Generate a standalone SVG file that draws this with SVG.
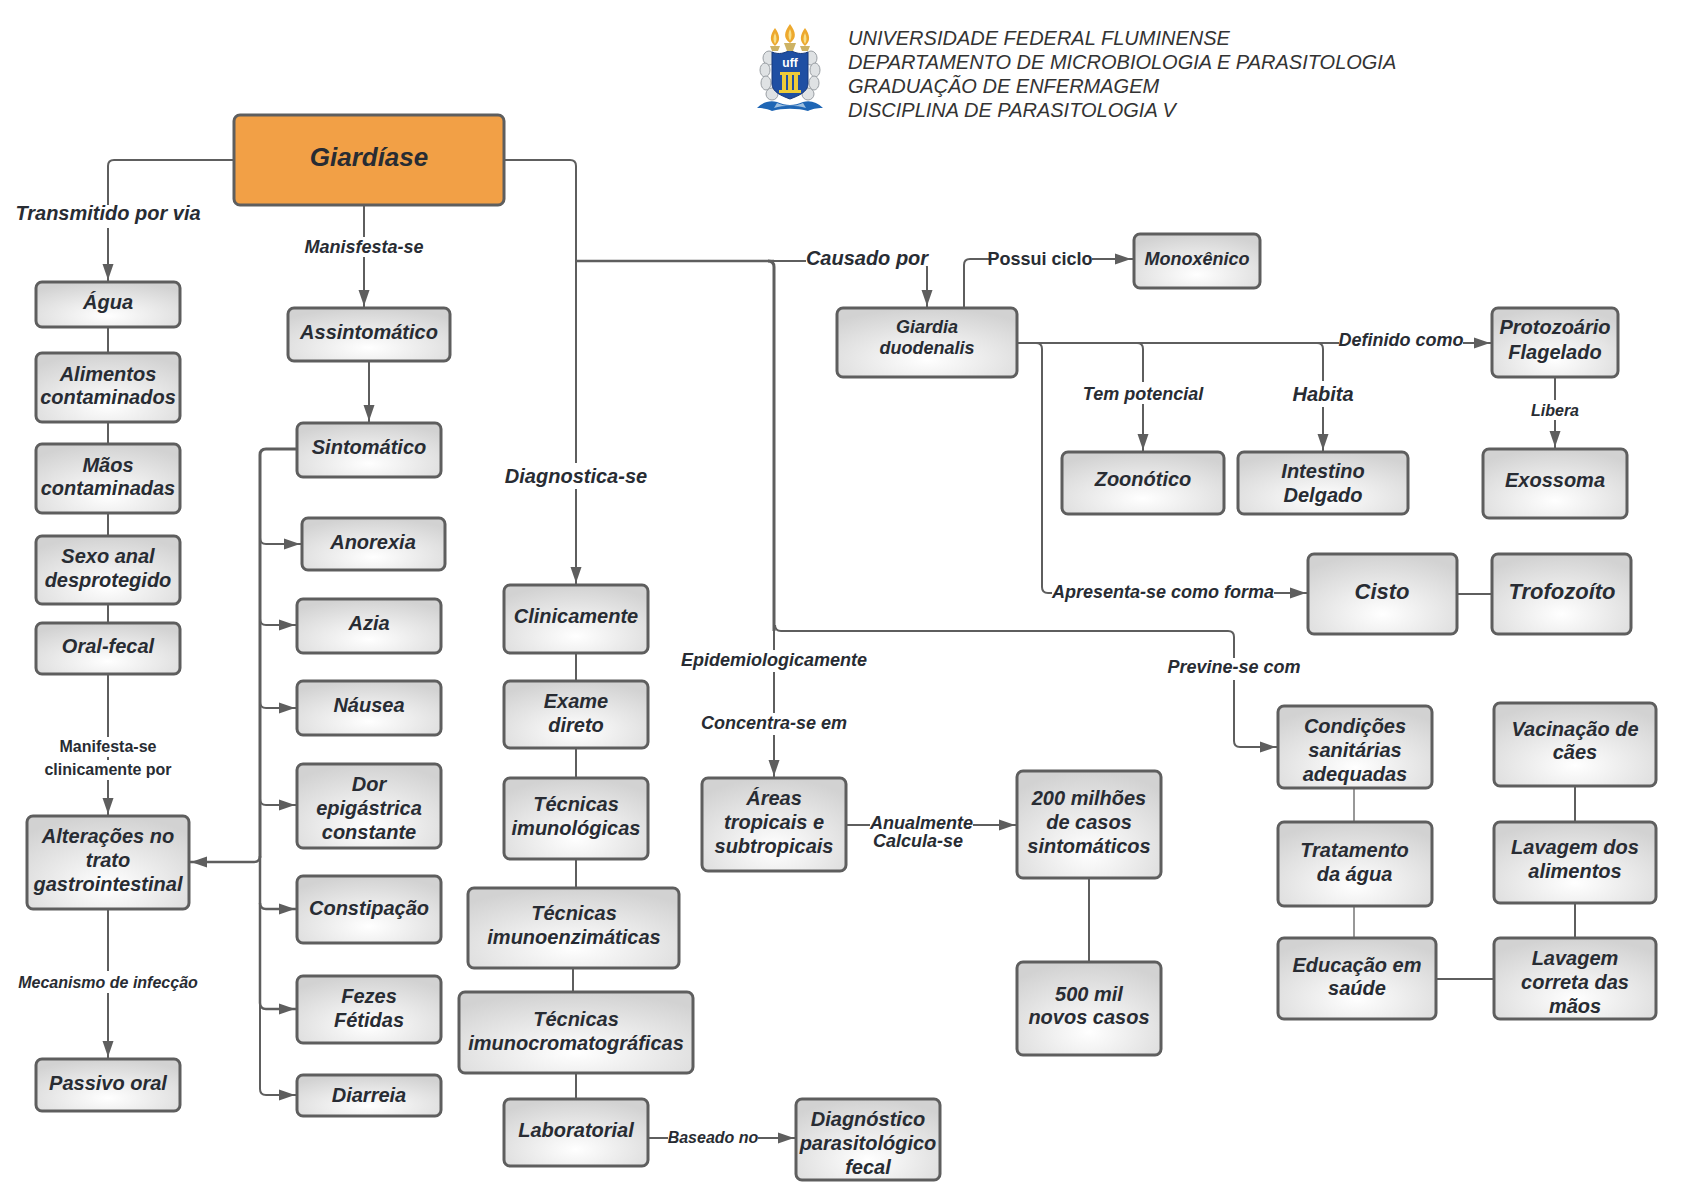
<svg xmlns="http://www.w3.org/2000/svg" width="1683" height="1190" viewBox="0 0 1683 1190">
<style>
text{font-family:"Liberation Sans",Arial,sans-serif;font-weight:bold;font-style:italic;fill:#282c33;text-anchor:middle;transform:translateY(1px)}
.n{fill:url(#g);stroke:#5e5e5e;stroke-width:3}
.c{fill:none;stroke:#5e5e5e;stroke-width:2}
.k{stroke-width:3}
.a{marker-end:url(#ar)}
.w{fill:#fff}
.t20{font-size:20px}.t18{font-size:18px}.t16{font-size:16px}.t22{font-size:22px}
.h{font-size:20px;font-weight:normal;text-anchor:start;fill:#333;transform:none}
.orn{fill:#dfe2e4;stroke:#9a9fa4;stroke-width:1}
</style>
<defs>
<radialGradient id="g" cx=".5" cy=".75" r=".75"><stop offset="0" stop-color="#ffffff"/><stop offset="1" stop-color="#d2d2d2"/></radialGradient>
<marker id="ar" markerUnits="userSpaceOnUse" markerWidth="18" markerHeight="16" refX="18" refY="8" orient="auto"><path d="M0 2.5L16 8L0 13.5Z" fill="#5e5e5e"/></marker>
</defs>
<rect width="1683" height="1190" fill="#fff"/>
<g id="logo">
<ellipse class="orn" cx="769" cy="58" rx="6" ry="7"/><ellipse class="orn" cx="811" cy="58" rx="6" ry="7"/>
<ellipse class="orn" cx="765" cy="70" rx="5" ry="7"/><ellipse class="orn" cx="815" cy="70" rx="5" ry="7"/>
<ellipse class="orn" cx="766" cy="83" rx="5" ry="7"/><ellipse class="orn" cx="814" cy="83" rx="5" ry="7"/>
<ellipse class="orn" cx="772" cy="94" rx="6" ry="6"/><ellipse class="orn" cx="808" cy="94" rx="6" ry="6"/>
<path d="M772 52C779 55 785 53 790 50C795 53 801 55 808 52V84C808 92 798 96 790 99C782 96 772 92 772 84Z" fill="#1f4fa3" stroke="#17387a"/>
<path d="M780 72H800V75H798V90H801V93H779V90H782V75H780Z" fill="#eecb38"/>
<path d="M786 75H788V90H786ZM792 75H794V90H792Z" fill="#1f4fa3"/>
<text x="790" y="66" style="font-size:12px;fill:#fff;font-style:normal">uff</text>
<path d="M757 108C763 102 770 100 777 102C786 106 794 106 803 102C810 100 817 102 823 108C816 108 812 109 808 111C798 108 782 108 772 111C768 109 764 108 757 108Z" fill="#1f66b5"/>
<path d="M777 103C786 107 794 107 803 103L806 108C796 105 784 105 774 108Z" fill="#9fc0e0"/>
<path d="M775 28C770 35 769 41 775 46C781 41 780 35 775 28ZM790 24C784 32 783 38 790 43C797 38 796 32 790 24ZM805 28C800 35 799 41 805 46C811 41 810 35 805 28Z" fill="#eda92e"/>
<path d="M775 33C773 37 773 41 775 44C777 41 777 37 775 33ZM790 29C788 33 788 37 790 41C792 37 792 33 790 29ZM805 33C803 37 803 41 805 44C807 41 807 37 805 33Z" fill="#f8e08a"/>
<path d="M784 43H796L793 51H787ZM770 46H780L778 51H772ZM800 46H810L808 51H802Z" fill="#cdb264"/>
</g>
<g id="cabecalho">
<text class="h" x="848" y="45">UNIVERSIDADE FEDERAL FLUMINENSE</text>
<text class="h" x="848" y="69">DEPARTAMENTO DE MICROBIOLOGIA E PARASITOLOGIA</text>
<text class="h" x="848" y="93">GRADUAÇÃO DE ENFERMAGEM</text>
<text class="h" x="848" y="117">DISCIPLINA DE PARASITOLOGIA V</text>
</g>
<g id="connectors">
<path class="c a" d="M234 160H114Q108 160 108 166V282"/>
<path class="c a" d="M364 205V308"/>
<path class="c a" d="M369 361V423"/>
<path class="c" d="M108 327V353M108 422V444M108 513V536M108 604V622"/>
<path class="c a" d="M108 674V816"/>
<path class="c a" d="M108 909V1059"/>
<path class="c k" d="M297 449H266Q260 449 260 455V858"/>
<path class="c a" d="M260 856Q260 862 254 862H189" style="stroke-width:2.5"/>
<path class="c a" d="M260 538Q260 544 266 544H302"/>
<path class="c a" d="M260 619Q260 625 266 625H297"/>
<path class="c a" d="M260 702Q260 708 266 708H297"/>
<path class="c a" d="M260 799Q260 805 266 805H297"/>
<path class="c a" d="M260 858V903Q260 909 266 909H297" style="stroke-width:2.5"/>
<path class="c a" d="M260 903V1003Q260 1009 266 1009H297" style="stroke-width:2.5"/>
<path class="c a" d="M260 1003V1089Q260 1095 266 1095H297"/>
<path class="c a" d="M504 160H570Q576 160 576 166V585"/>
<path class="c" d="M576 653V681M576 748V778M576 859V888M573 968V992M576 1073V1098"/>
<path class="c a" d="M648 1138H796"/>
<path class="c" d="M576 261H774" style="stroke-width:2.5"/>
<path class="c a" d="M774 261H921Q927 261 927 267V308"/>
<path class="c k" d="M768 261Q774 261 774 267V631"/>
<path class="c a" d="M775 625Q775 631 781 631H1228Q1234 631 1234 637V741Q1234 747 1240 747H1278"/>
<path class="c a" d="M774 631V778"/>
<path class="c a" d="M846 825H1017"/>
<path class="c" d="M1089 878V962"/>
<path class="c a" d="M964 308V265Q964 259 970 259H1133"/>
<path class="c a" d="M1017 343H1492"/>
<path class="c a" d="M1137 343Q1143 343 1143 349V452"/>
<path class="c a" d="M1317 343Q1323 343 1323 349V452"/>
<path class="c a" d="M1036 343Q1042 343 1042 349V587Q1042 593 1048 593H1308"/>
<path class="c" d="M1457 594H1492"/>
<path class="c a" d="M1555 377V449"/>
<path class="c" d="M1354 788V822M1354 906V938" style="stroke:#777;stroke-width:1.5"/>
<path class="c" d="M1575 786V822M1575 903V938M1436 979H1494"/>
<g id="labels">
<rect class="w" x="12" y="205" width="192" height="23"/><text class="t20" x="108" y="219">Transmitido por via</text>
<rect class="w" x="302" y="237" width="124" height="20"/><text class="t18" x="364" y="252">Manisfesta-se</text>
<rect class="w" x="50" y="737" width="116" height="20"/><text class="t16" style="font-style:normal" x="108" y="751">Manifesta-se</text>
<rect class="w" x="40" y="760" width="136" height="20"/><text class="t16" style="font-style:normal" x="108" y="774">clinicamente por</text>
<rect class="w" x="16" y="971" width="184" height="22"/><text class="t16" x="108" y="987">Mecanismo de infecção</text>
<rect class="w" x="503" y="463" width="146" height="26"/><text class="t20" x="576" y="482">Diagnostica-se</text>
<rect class="w" x="668" y="1126" width="90" height="22"/><text class="t16" x="713" y="1142">Baseado no</text>
<rect class="w" x="806" y="250" width="122" height="16"/><text class="t20" x="867" y="264">Causado por</text>
<rect class="w" x="989" y="250" width="103" height="20"/><text class="t18" x="1040" y="264" style="font-style:normal">Possui ciclo</text>
<rect class="w" x="1339" y="330" width="124" height="20"/><text class="t18" x="1401" y="345">Definido como</text>
<rect class="w" x="1081" y="382" width="124" height="22"/><text class="t18" x="1143" y="399">Tem potencial</text>
<rect class="w" x="1291" y="381" width="64" height="26"/><text class="t20" x="1323" y="400">Habita</text>
<rect class="w" x="1052" y="582" width="222" height="20"/><text class="t18" x="1163" y="597">Apresenta-se como forma</text>
<rect class="w" x="1530" y="400" width="50" height="20"/><text class="t16" x="1555" y="415">Libera</text>
<rect class="w" x="678" y="650" width="192" height="22"/><text class="t18" x="774" y="665">Epidemiologicamente</text>
<rect class="w" x="698" y="713" width="152" height="22"/><text class="t18" x="774" y="728">Concentra-se em</text>
<rect class="w" x="1165" y="658" width="138" height="22"/><text class="t18" x="1234" y="672">Previne-se com</text>
<rect class="w" x="870" y="812" width="103" height="20"/><text class="t18" x="921.5" y="828">Anualmente</text>
<rect class="w" x="870" y="834" width="96" height="18"/><text class="t18" x="918" y="846">Calcula-se</text>
</g>
</g>
<g id="giardiase"><rect x="234" y="115" width="270" height="90" rx="6" fill="#f2a046" stroke="#5e5e5e" stroke-width="3"/><text x="369" y="165" style="font-size:26px">Giardíase</text></g>
<g id="agua"><rect class="n" x="36" y="282" width="144" height="45" rx="6"/><text class="t20" x="108" y="308">Água</text></g>
<g id="alimentos"><rect class="n" x="36" y="353" width="144" height="69" rx="6"/><text class="t20" x="108" y="380">Alimentos</text><text class="t20" x="108" y="403">contaminados</text></g>
<g id="maos"><rect class="n" x="36" y="444" width="144" height="69" rx="6"/><text class="t20" x="108" y="471">Mãos</text><text class="t20" x="108" y="494">contaminadas</text></g>
<g id="sexo"><rect class="n" x="36" y="536" width="144" height="68" rx="6"/><text class="t20" x="108" y="562">Sexo anal</text><text class="t20" x="108" y="586">desprotegido</text></g>
<g id="oral"><rect class="n" x="36" y="623" width="144" height="51" rx="6"/><text class="t20" x="108" y="652">Oral-fecal</text></g>
<g id="alteracoes"><rect class="n" x="27" y="816" width="162" height="93" rx="6"/><text class="t20" x="108" y="842">Alterações no</text><text class="t20" x="108" y="866">trato</text><text class="t20" x="108" y="890">gastrointestinal</text></g>
<g id="passivo"><rect class="n" x="36" y="1059" width="144" height="52" rx="6"/><text class="t20" x="108" y="1089">Passivo oral</text></g>
<g id="assintomatico"><rect class="n" x="288" y="308" width="162" height="53" rx="6"/><text class="t20" x="369" y="338">Assintomático</text></g>
<g id="sintomatico"><rect class="n" x="297" y="423" width="144" height="54" rx="6"/><text class="t20" x="369" y="453">Sintomático</text></g>
<g id="anorexia"><rect class="n" x="302" y="518" width="143" height="52" rx="6"/><text class="t20" x="373" y="548">Anorexia</text></g>
<g id="azia"><rect class="n" x="297" y="599" width="144" height="54" rx="6"/><text class="t20" x="369" y="629">Azia</text></g>
<g id="nausea"><rect class="n" x="297" y="681" width="144" height="54" rx="6"/><text class="t20" x="369" y="711">Náusea</text></g>
<g id="dor"><rect class="n" x="297" y="764" width="144" height="84" rx="6"/><text class="t20" x="369" y="790">Dor</text><text class="t20" x="369" y="814">epigástrica</text><text class="t20" x="369" y="838">constante</text></g>
<g id="constipacao"><rect class="n" x="297" y="876" width="144" height="67" rx="6"/><text class="t20" x="369" y="914">Constipação</text></g>
<g id="fezes"><rect class="n" x="297" y="976" width="144" height="67" rx="6"/><text class="t20" x="369" y="1002">Fezes</text><text class="t20" x="369" y="1026">Fétidas</text></g>
<g id="diarreia"><rect class="n" x="297" y="1075" width="144" height="41" rx="6"/><text class="t20" x="369" y="1101">Diarreia</text></g>
<g id="clinicamente"><rect class="n" x="504" y="585" width="144" height="68" rx="6"/><text class="t20" x="576" y="622">Clinicamente</text></g>
<g id="exame"><rect class="n" x="504" y="681" width="144" height="67" rx="6"/><text class="t20" x="576" y="707">Exame</text><text class="t20" x="576" y="731">direto</text></g>
<g id="imunologicas"><rect class="n" x="504" y="778" width="144" height="81" rx="6"/><text class="t20" x="576" y="810">Técnicas</text><text class="t20" x="576" y="834">imunológicas</text></g>
<g id="imunoenzimaticas"><rect class="n" x="468" y="888" width="211" height="80" rx="6"/><text class="t20" x="574" y="919">Técnicas</text><text class="t20" x="574" y="943">imunoenzimáticas</text></g>
<g id="imunocromatograficas"><rect class="n" x="459" y="992" width="234" height="81" rx="6"/><text class="t20" x="576" y="1025">Técnicas</text><text class="t20" x="576" y="1049">imunocromatográficas</text></g>
<g id="laboratorial"><rect class="n" x="504" y="1099" width="144" height="67" rx="6"/><text class="t20" x="576" y="1136">Laboratorial</text></g>
<g id="diagnostico"><rect class="n" x="796" y="1099" width="144" height="81" rx="6"/><text class="t20" x="868" y="1125">Diagnóstico</text><text class="t20" x="868" y="1149">parasitológico</text><text class="t20" x="868" y="1173">fecal</text></g>
<g id="areas"><rect class="n" x="702" y="778" width="144" height="93" rx="6"/><text class="t20" x="774" y="804">Áreas</text><text class="t20" x="774" y="828">tropicais e</text><text class="t20" x="774" y="852">subtropicais</text></g>
<g id="milhoes"><rect class="n" x="1017" y="771" width="144" height="107" rx="6"/><text class="t20" x="1089" y="804">200 milhões</text><text class="t20" x="1089" y="828">de casos</text><text class="t20" x="1089" y="852">sintomáticos</text></g>
<g id="mil"><rect class="n" x="1017" y="962" width="144" height="93" rx="6"/><text class="t20" x="1089" y="1000">500 mil</text><text class="t20" x="1089" y="1023">novos casos</text></g>
<g id="giardia"><rect class="n" x="837" y="308" width="180" height="69" rx="6"/><text class="t18" x="927" y="332">Giardia</text><text class="t18" x="927" y="353">duodenalis</text></g>
<g id="monoxenico"><rect class="n" x="1134" y="234" width="126" height="54" rx="6"/><text class="t18" x="1197" y="264">Monoxênico</text></g>
<g id="protozoario"><rect class="n" x="1492" y="308" width="126" height="69" rx="6"/><text class="t20" x="1555" y="333">Protozoário</text><text class="t20" x="1555" y="358">Flagelado</text></g>
<g id="zoonotico"><rect class="n" x="1062" y="452" width="162" height="62" rx="6"/><text class="t20" x="1143" y="485">Zoonótico</text></g>
<g id="intestino"><rect class="n" x="1238" y="452" width="170" height="62" rx="6"/><text class="t20" x="1323" y="477">Intestino</text><text class="t20" x="1323" y="501">Delgado</text></g>
<g id="exossoma"><rect class="n" x="1483" y="449" width="144" height="69" rx="6"/><text class="t20" x="1555" y="486">Exossoma</text></g>
<g id="cisto"><rect class="n" x="1308" y="554" width="149" height="80" rx="6"/><text class="t22" x="1382" y="598">Cisto</text></g>
<g id="trofozoito"><rect class="n" x="1492" y="554" width="139" height="80" rx="6"/><text class="t22" x="1562" y="598">Trofozoíto</text></g>
<g id="condicoes"><rect class="n" x="1278" y="706" width="154" height="82" rx="6"/><text class="t20" x="1355" y="732">Condições</text><text class="t20" x="1355" y="756">sanitárias</text><text class="t20" x="1355" y="780">adequadas</text></g>
<g id="tratamento"><rect class="n" x="1278" y="822" width="154" height="84" rx="6"/><text class="t20" x="1354.5" y="856">Tratamento</text><text class="t20" x="1354.5" y="880">da água</text></g>
<g id="educacao"><rect class="n" x="1278" y="938" width="158" height="81" rx="6"/><text class="t20" x="1357" y="971">Educação em</text><text class="t20" x="1357" y="994">saúde</text></g>
<g id="vacinacao"><rect class="n" x="1494" y="703" width="162" height="83" rx="6"/><text class="t20" x="1575" y="735">Vacinação de</text><text class="t20" x="1575" y="758">cães</text></g>
<g id="lavagem"><rect class="n" x="1494" y="822" width="162" height="81" rx="6"/><text class="t20" x="1575" y="853">Lavagem dos</text><text class="t20" x="1575" y="877">alimentos</text></g>
<g id="lavagemmaos"><rect class="n" x="1494" y="938" width="162" height="81" rx="6"/><text class="t20" x="1575" y="964">Lavagem</text><text class="t20" x="1575" y="988">correta das</text><text class="t20" x="1575" y="1012">mãos</text></g>
</svg>
